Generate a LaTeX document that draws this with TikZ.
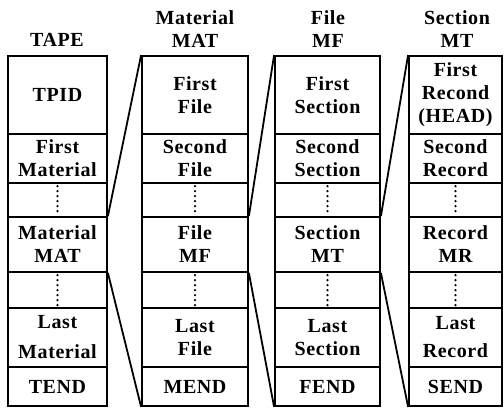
\documentclass[tikz,border=0pt]{standalone}
\usepackage{fontspec}
\setmainfont{Liberation Serif}[LetterSpace=3]
\newcommand\cellnode[6]{\node[cell, minimum width={(#3-#2)*1pt}, minimum height={(#5-#4)*1pt}] (#1) at ({(#2+#3)/2},{(#4+#5)/2}) {#6};}
\begin{document}
\begin{tikzpicture}[x=1pt,y=-1pt,
  txt/.style={font=\fontsize{20}{23}\selectfont\bfseries},
  cell/.style={draw, line width=1.8pt, inner sep=0pt, align=center, txt},
  hdr/.style={align=center, inner sep=0pt, txt},
  link/.style={line width=1.8pt},
  dots/.style={line width=2.6pt, line cap=round, dash pattern=on 0pt off 5pt}]
\useasboundingbox (0,0) rectangle (504,409);
% headers
\node[hdr] (hTape) at (57,40) {TAPE};
\node[hdr] (hMat) at (195,29) {Material\\MAT};
\node[hdr] (hMf) at (328,29) {File\\MF};
\node[hdr] (hMt) at (457,29) {Section\\MT};
% TAPE column
\cellnode{tape1}{8}{107}{56}{134}{TPID}
\cellnode{tape2}{8}{107}{134}{183}{First\\Material}
\cellnode{tape3}{8}{107}{183}{217}{}
\cellnode{tape4}{8}{107}{217}{272}{Material\\MAT}
\cellnode{tape5}{8}{107}{272}{308}{}
\cellnode{tape6}{8}{107}{308}{367}{Last\\[7pt]Material}
\cellnode{tape7}{8}{107}{367}{406}{TEND}
% MAT column
\cellnode{mat1}{142}{248}{56}{134}{First\\File}
\cellnode{mat2}{142}{248}{134}{183}{Second\\File}
\cellnode{mat3}{142}{248}{183}{217}{}
\cellnode{mat4}{142}{248}{217}{272}{File\\MF}
\cellnode{mat5}{142}{248}{272}{308}{}
\cellnode{mat6}{142}{248}{308}{367}{Last\\File}
\cellnode{mat7}{142}{248}{367}{406}{MEND}
% MF column
\cellnode{mf1}{275}{380}{56}{134}{First\\Section}
\cellnode{mf2}{275}{380}{134}{183}{Second\\Section}
\cellnode{mf3}{275}{380}{183}{217}{}
\cellnode{mf4}{275}{380}{217}{272}{Section\\MT}
\cellnode{mf5}{275}{380}{272}{308}{}
\cellnode{mf6}{275}{380}{308}{367}{Last\\Section}
\cellnode{mf7}{275}{380}{367}{406}{FEND}
% MT column
\cellnode{mt1}{409}{502}{56}{134}{First\\Recond\\(HEAD)}
\cellnode{mt2}{409}{502}{134}{183}{Second\\Record}
\cellnode{mt3}{409}{502}{183}{217}{}
\cellnode{mt4}{409}{502}{217}{272}{Record\\MR}
\cellnode{mt5}{409}{502}{272}{308}{}
\cellnode{mt6}{409}{502}{308}{367}{Last\\[5pt]Record}
\cellnode{mt7}{409}{502}{367}{406}{SEND}
% dotted continuation lines
\foreach \c in {tape,mat,mf,mt}{
  \draw[dots] ([yshift=-4pt]\c3.north) -- ([yshift=3pt]\c3.south);
  \draw[dots] ([yshift=-4pt]\c5.north) -- ([yshift=3pt]\c5.south);
}
% expansion connectors
\draw[link] (tape4.north east) -- (mat1.north west);
\draw[link] (tape4.south east) -- (mat7.south west);
\draw[link] (mat4.north east) -- (mf1.north west);
\draw[link] (mat4.south east) -- (mf7.south west);
\draw[link] (mf4.north east) -- (mt1.north west);
\draw[link] (mf4.south east) -- (mt7.south west);
\end{tikzpicture}
\end{document}
